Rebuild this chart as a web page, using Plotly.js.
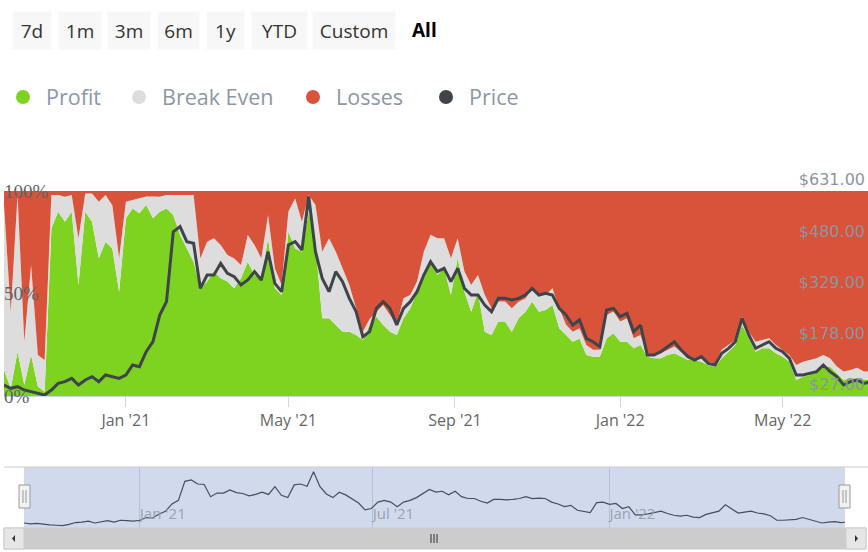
<!DOCTYPE html>
<html><head><meta charset="utf-8">
<script src="https://cdn.plot.ly/plotly-3.0.1.min.js"></script>
<style>html,body{margin:0;padding:0;background:#fff;overflow:hidden}#chart{width:868px;height:552px}</style>
</head><body><div id="chart"></div>
<script>
// ---- data (one sample every 5 days, starting 2020-10-03) ----
const START_DATE = '2020-10-03';
const STEP_MS = 5 * 86400000;
const profit = [12.7,3.7,21.6,5.4,20.0,4.6,2.1,81.8,89.9,85.0,89.9,54.1,89.9,85.0,67.2,75.3,72.0,50.9,86.7,91.5,
  89.1,93.2,86.7,89.9,91.5,88.3,78.5,72.0,65.5,52.5,55.8,60.7,57.4,55.8,52.5,57.4,65.5,59.0,57.4,76.9,
  52.5,49.3,80.2,72.0,70.4,89.9,73.7,37.9,37.9,34.6,31.4,31.4,29.8,27.3,34.6,38.7,34.6,31.4,29.8,37.9,
  42.8,50.9,57.4,67.2,59.0,62.3,49.3,67.2,50.9,41.1,50.9,31.4,29.8,36.3,36.3,31.4,37.9,41.1,46.0,41.1,
  42.0,44.4,33.0,29.8,26.5,28.1,20.0,19.2,19.2,28.1,30.6,26.5,26.5,23.3,24.9,19.2,18.4,18.4,20.0,20.8,
  19.2,17.6,17.6,16.7,15.1,14.3,18.4,21.6,24.9,34.6,28.1,21.6,23.3,23.3,20.8,19.2,16.7,7.8,9.4,10.2,
  11.9,14.3,14.3,11.1,7.8,8.6,8.6,7.8,7.8];
const breakEven = [80.5,37.4,76.4,21.1,43.9,15.4,15.4,16.3,8.1,12.2,8.1,22.8,8.9,13.8,27.6,22.8,21.1,16.3,8.1,4.1,
  7.3,4.1,10.6,7.3,6.5,9.8,19.5,26.0,32.5,14.6,19.5,16.3,16.3,13.0,14.6,6.5,13.0,14.6,9.8,11.4,
  9.8,4.9,9.8,24.4,14.6,8.1,19.5,32.5,39.0,35.8,30.9,22.8,13.0,4.1,3.0,2.4,9.8,8.1,4.9,9.8,
  6.5,4.9,13.0,11.4,17.9,14.6,17.9,9.8,9.8,13.0,8.1,17.9,13.0,9.8,9.8,11.4,8.1,6.5,6.5,8.1,
  7.3,8.1,9.8,4.9,4.9,4.9,4.9,3.3,3.3,11.4,10.6,9.8,11.4,4.9,4.9,1.5,1.6,2.4,2.4,3.3,
  2.4,1.6,0.8,1.6,1.6,1.6,4.1,3.3,2.4,4.1,3.3,4.9,4.1,4.9,4.1,3.3,3.3,7.3,7.3,7.3,
  6.5,5.7,4.1,3.3,4.1,4.1,5.2,4.1,4.1];
const price = [59.4,49.6,54.5,44.7,39.8,34.9,29.9,44.7,64.3,69.2,79.0,59.4,74.1,84.0,69.2,88.9,84.0,79.0,88.9,118.3,
  113.4,157.6,187.0,265.6,304.9,511.1,525.9,481.7,476.8,344.2,383.5,383.5,417.8,388.4,378.6,354.0,368.7,393.3,368.7,452.2,
  358.9,334.4,471.8,481.7,457.1,615.0,452.2,373.6,334.4,393.3,363.8,314.7,275.4,201.8,216.5,285.3,304.9,285.3,236.2,285.3,
  304.9,334.4,383.5,422.7,393.3,403.1,363.8,403.1,344.2,324.5,324.5,295.1,275.4,314.7,314.7,309.8,314.7,324.5,344.2,324.5,
  329.5,324.5,285.3,265.6,236.2,250.9,196.9,187.0,172.3,280.4,285.3,260.7,270.5,216.5,236.2,147.8,147.8,157.6,172.3,187.0,
  162.5,142.9,133.1,142.9,123.2,118.3,152.7,167.4,187.0,255.8,206.7,167.4,177.2,187.0,167.4,157.6,138.0,88.9,88.9,93.8,
  98.7,118.3,98.7,84.0,59.4,69.2,74.1,64.3,69.2];
const priceTicks = [27, 178, 329, 480, 631];
const priceTickText = ['$27.00', '$178.00', '$329.00', '$480.00', '$631.00'];
const pctTicks = [0, 50, 100];
const pctTickText = ['0%', '50%', '100%'];
const navTicks = ['2021-01-01', '2021-07-01', '2022-01-01'];
const navTickText = ["Jan '21", "Jul '21", "Jan '22"];
const rangeButtons = ['7d', '1m', '3m', '6m', '1y', 'YTD', 'Custom'];
const selectedRange = 'All';
const seriesNames = ['Profit', 'Break Even', 'Losses', 'Price'];
const X_RANGE = ['2020-10-03', '2022-07-03'];

const losses = profit.map((p, i) => Math.max(0, 100 - p - breakEven[i]));

// ---- styling ----
const C = {profit: '#7ed321', be: '#dddddd', loss: '#d9533a', price: '#3f434a'};
const W = 868, H = 552;
const px = x => x / W, py = y => 1 - y / H;

const areaBase = {x0: START_DATE, dx: STEP_MS, type: 'scatter', mode: 'lines', stackgroup: 'pct',
  xaxis: 'x', yaxis: 'y', line: {width: 0}, hoverinfo: 'skip', showlegend: false};
const traces = [
  Object.assign({}, areaBase, {name: seriesNames[0], y: profit, fillcolor: C.profit, line: {width: 0, color: C.profit}}),
  Object.assign({}, areaBase, {name: seriesNames[1], y: breakEven, fillcolor: C.be, line: {width: 0, color: C.be}}),
  Object.assign({}, areaBase, {name: seriesNames[2], y: losses, fillcolor: C.loss, line: {width: 0, color: C.loss}}),
  {name: seriesNames[3], x0: START_DATE, dx: STEP_MS, y: price, type: 'scatter', mode: 'lines',
   xaxis: 'x', yaxis: 'y2', line: {color: C.price, width: 3}, showlegend: false, hoverinfo: 'skip'},
  {name: 'nav', x0: START_DATE, dx: STEP_MS, y: price, type: 'scatter', mode: 'lines',
   xaxis: 'x2', yaxis: 'y3', line: {color: '#474e5e', width: 1.2}, showlegend: false, hoverinfo: 'skip'}
];

// range buttons
const btnBoxes = [[12, 38], [58, 42], [107, 42], [157, 41], [206, 37], [251, 55], [312, 82]];
const annotations = rangeButtons.map((t, i) => ({
  text: t, xref: 'paper', yref: 'paper', x: px(btnBoxes[i][0]), y: py(11), xanchor: 'left', yanchor: 'top',
  width: btnBoxes[i][1], height: 37, bgcolor: '#f7f7f7', borderpad: 0, showarrow: false, align: 'center', valign: 'middle',
  font: {family: 'Open Sans', size: 19, color: '#333333'}
}));
annotations.push({text: '<b>' + selectedRange + '</b>', xref: 'paper', yref: 'paper', x: px(410), y: py(30),
  xanchor: 'left', yanchor: 'middle', showarrow: false, font: {family: 'Open Sans', size: 19, color: '#000'}});

// legend
const legendColors = [C.profit, C.be, C.loss, C.price];
const legendCx = [23, 139, 313, 446];
const shapes = [];
seriesNames.forEach((n, i) => {
  shapes.push({type: 'circle', xref: 'paper', yref: 'paper', x0: px(legendCx[i] - 7), x1: px(legendCx[i] + 7),
    y0: py(104), y1: py(90), fillcolor: legendColors[i], line: {width: 0}});
  annotations.push({text: n, xref: 'paper', yref: 'paper', x: px(legendCx[i] + 21), y: py(96), xanchor: 'left',
    yanchor: 'middle', showarrow: false, font: {family: 'Open Sans', size: 21.5, color: '#8b98a5'}});
});

// navigator
shapes.push({type: 'rect', xref: 'x2 domain', yref: 'y3 domain', x0: 0, x1: 1, y0: 0, y1: 1,
  fillcolor: '#d1daed', line: {width: 0}, layer: 'below'});
shapes.push({type: 'line', xref: 'paper', yref: 'paper', x0: px(4), x1: px(868), y0: py(467), y1: py(467),
  line: {color: '#cccccc', width: 1}});
[[19, 30], [839, 850]].forEach(h => {
  shapes.push({type: 'rect', xref: 'paper', yref: 'paper', x0: px(h[0]), x1: px(h[1]), y0: py(508), y1: py(485),
    fillcolor: '#f2f2f2', line: {color: '#999999', width: 1}});
  const cx = (h[0] + h[1]) / 2;
  [-1.5, 1.5].forEach(d => shapes.push({type: 'line', xref: 'paper', yref: 'paper', x0: px(cx + d), x1: px(cx + d),
    y0: py(503), y1: py(490), line: {color: '#999999', width: 1}}));
});
// scrollbar
shapes.push({type: 'rect', xref: 'paper', yref: 'paper', x0: px(4), x1: px(866), y0: py(549), y1: py(528),
  fillcolor: '#cccccc', line: {color: '#cccccc', width: 1}});
[[4, 24], [846, 866]].forEach(b => shapes.push({type: 'rect', xref: 'paper', yref: 'paper', x0: px(b[0]), x1: px(b[1]),
  y0: py(549), y1: py(528), fillcolor: '#e6e6e6', line: {color: '#cccccc', width: 1}}));
shapes.push({type: 'path', xref: 'paper', yref: 'paper', fillcolor: '#333', line: {width: 0},
  path: `M ${px(12)} ${py(538.5)} L ${px(15)} ${py(535)} L ${px(15)} ${py(542)} Z`});
shapes.push({type: 'path', xref: 'paper', yref: 'paper', fillcolor: '#333', line: {width: 0},
  path: `M ${px(858)} ${py(538.5)} L ${px(855)} ${py(535)} L ${px(855)} ${py(542)} Z`});
[431, 434, 437].forEach(x => shapes.push({type: 'line', xref: 'paper', yref: 'paper', x0: px(x), x1: px(x),
  y0: py(543), y1: py(534), line: {color: '#333', width: 1}}));

const layout = {
  width: W, height: H, autosize: false, margin: {l: 0, r: 0, t: 0, b: 0, pad: 0},
  paper_bgcolor: '#fff', plot_bgcolor: 'rgba(0,0,0,0)', hovermode: false, showlegend: false,
  xaxis: {type: 'date', domain: [px(4), 1], anchor: 'y', range: X_RANGE, tick0: '2021-01-01', dtick: 'M4',
    tickformat: "%b '%y", ticks: 'outside', ticklen: 10, tickcolor: '#ccd6eb', showline: true, linecolor: '#ccd6eb',
    showgrid: false, zeroline: false, tickfont: {family: 'Open Sans', size: 16, color: '#666'}},
  yaxis: {domain: [py(396), py(191)], anchor: 'x', range: [0, 100], tickvals: pctTicks, ticktext: pctTickText,
    ticklabelposition: 'inside', ticklabeloverflow: 'allow', ticklabelstandoff: -3, showgrid: false, zeroline: false, ticks: '',
    tickfont: {family: 'Liberation Serif', size: 19, color: '#5f6266'}},
  yaxis2: {overlaying: 'y', side: 'right', anchor: 'x', range: [27, 631], tickvals: priceTicks, ticktext: priceTickText,
    ticklabelposition: 'inside top', ticklabeloverflow: 'allow', showgrid: false, zeroline: false, ticks: '',
    tickfont: {family: 'DejaVu Sans', size: 16, color: '#8c959e'}},
  xaxis2: {type: 'date', domain: [px(24), px(845)], anchor: 'y3', range: X_RANGE, tickvals: navTicks, ticktext: navTickText,
    ticklabelposition: 'inside right', ticklabeloverflow: 'allow', ticks: '',
    showgrid: true, gridcolor: 'rgba(120,135,165,0.3)', showline: false, zeroline: false,
    tickfont: {family: 'Open Sans', size: 15, color: '#9aa2b0'}},
  yaxis3: {domain: [py(528), py(467)], anchor: 'x2', range: [5, 666], showgrid: false, zeroline: false,
    showticklabels: false, ticks: ''},
  shapes: shapes, annotations: annotations
};
Plotly.newPlot('chart', traces, layout, {staticPlot: true, displayModeBar: false});
</script></body></html>
